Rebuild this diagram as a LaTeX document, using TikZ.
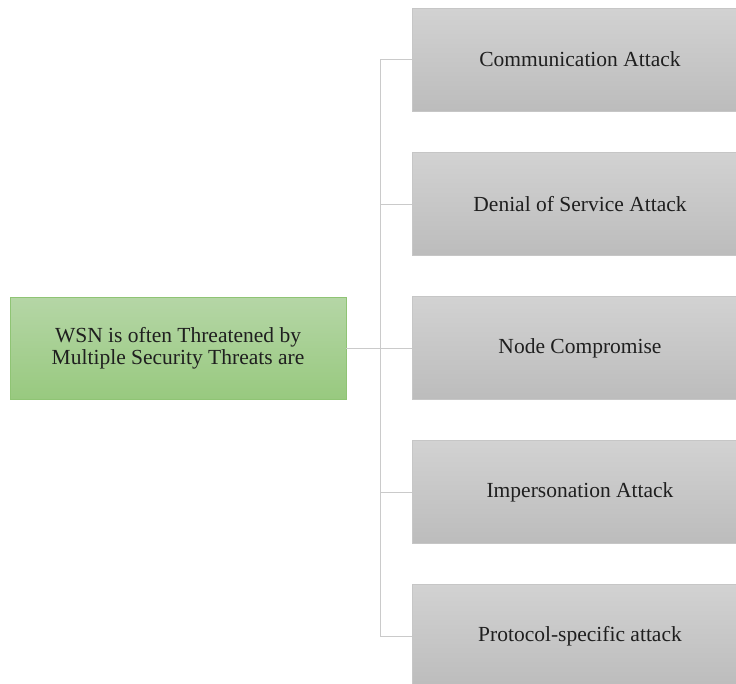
\documentclass[tikz,border=0pt]{standalone}
\usepackage{fontspec}
\setmainfont{Liberation Serif}
\definecolor{gtop}{HTML}{D2D2D2}
\definecolor{gbot}{HTML}{BCBCBC}
\definecolor{gline}{HTML}{C6C6C6}
\definecolor{ntop}{HTML}{B5D6A6}
\definecolor{nbot}{HTML}{98C97F}
\definecolor{nline}{HTML}{8FC474}
\definecolor{conn}{HTML}{CACACA}
\begin{document}
\begin{tikzpicture}[x=1pt,y=-1pt,
  greybox/.style={draw=gline, line width=0.8pt, top color=gtop, bottom color=gbot, minimum width=336pt, minimum height=103pt, inner sep=0pt, font=\fontsize{21.5}{22}\selectfont, text=black!88},
  greenbox/.style={draw=nline, line width=0.8pt, top color=ntop, bottom color=nbot, minimum width=336pt, minimum height=102pt, inner sep=0pt, align=center, font=\fontsize{21.5}{22}\selectfont, text=black!88},
  link/.style={draw=conn, line width=1pt}]
\useasboundingbox (0,0) rectangle (736,683);
\node[greenbox] (root) at (178,348) {WSN is often Threatened by\\Multiple Security Threats are};
\node[greybox] (a) at (580,59.5) {\raisebox{-1pt}{Communication Attack}};
\node[greybox] (b) at (580,204) {\raisebox{-1pt}{Denial of Service Attack}};
\node[greybox] (c) at (580,348) {\raisebox{-1pt}{Node Compromise}};
\node[greybox] (d) at (580,492) {\raisebox{-1pt}{Impersonation Attack}};
\node[greybox] (e) at (580,636) {\raisebox{-1pt}{Protocol-specific attack}};
\coordinate (top) at (380,59.5);
\coordinate (bot) at (380,636);
\draw[link] (top) -- (bot);
\draw[link] (root.east) -- (c.west);
\foreach \n in {a,b,d,e} \draw[link] (380,0 |- \n.west) -- (\n.west);
\end{tikzpicture}
\end{document}
